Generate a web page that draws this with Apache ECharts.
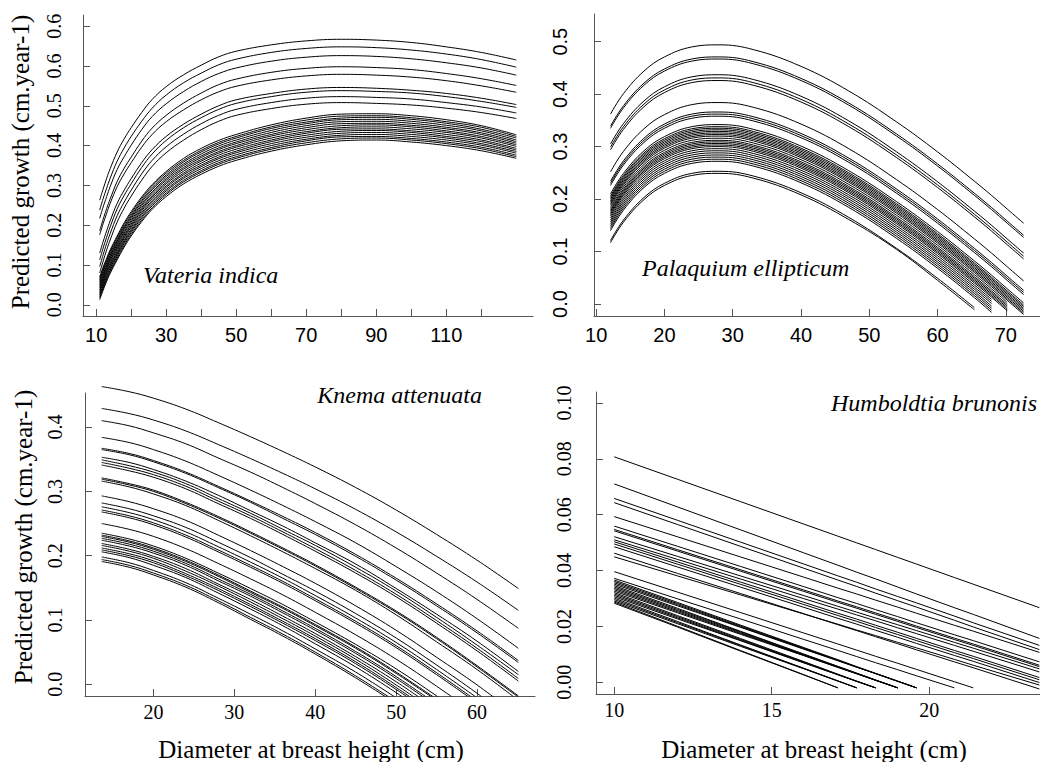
<!DOCTYPE html>
<html><head><meta charset="utf-8">
<script src="https://cdn.jsdelivr.net/npm/echarts@6/dist/echarts.min.js"></script>
<style>html,body{margin:0;padding:0;background:#fff}#c{width:1040px;height:762px}</style>
</head><body><div id="c"></div><script>
// ---------- Vateria indica ----------
const vateriaDbh = [11,12,13,14,16,18,20,23,26,30,35,40,45,50,60,70,80,90,100,110,120,130];
const vateriaGrowth = [
 [.263,.291,.318,.342,.384,.417,.445,.483,.516,.548,.578,.602,.623,.637,.653,.663,.667,.665,.659,.648,.634,.615],
 [.238,.267,.293,.318,.361,.394,.423,.461,.494,.527,.558,.582,.603,.617,.634,.644,.648,.646,.640,.630,.616,.597],
 [.217,.246,.272,.297,.340,.372,.401,.440,.473,.505,.536,.561,.581,.595,.612,.622,.626,.624,.618,.608,.595,.577],
 [.186,.215,.242,.266,.310,.343,.371,.411,.444,.476,.507,.532,.553,.567,.584,.594,.598,.596,.591,.581,.568,.551],
 [.176,.204,.230,.255,.297,.329,.357,.396,.428,.460,.490,.515,.535,.549,.565,.575,.579,.577,.572,.563,.550,.534],
 [.130,.159,.186,.211,.255,.288,.317,.357,.390,.423,.454,.479,.500,.515,.531,.542,.546,.544,.539,.531,.519,.503],
 [.113,.143,.170,.196,.241,.275,.304,.345,.379,.413,.445,.470,.491,.506,.523,.534,.538,.536,.532,.523,.511,.496],
 [.096,.126,.154,.179,.224,.258,.288,.329,.363,.397,.429,.455,.476,.491,.508,.519,.523,.521,.517,.508,.497,.482],
 [.080,.110,.138,.163,.208,.243,.273,.313,.348,.382,.414,.440,.461,.476,.493,.504,.508,.506,.502,.494,.483,.468],
 [.070,.095,.117,.138,.173,.206,.234,.271,.302,.335,.368,.393,.413,.428,.452,.469,.479,.480,.475,.465,.450,.427],
 [.066,.091,.113,.134,.169,.202,.230,.267,.298,.331,.363,.388,.408,.423,.447,.464,.474,.475,.470,.460,.446,.423],
 [.062,.087,.109,.130,.164,.197,.225,.262,.293,.326,.359,.384,.404,.419,.443,.459,.469,.471,.466,.456,.441,.419],
 [.058,.083,.105,.125,.160,.193,.221,.258,.289,.322,.354,.379,.399,.414,.438,.455,.465,.466,.461,.451,.437,.414],
 [.054,.078,.100,.121,.156,.189,.217,.253,.284,.317,.350,.374,.394,.409,.433,.450,.460,.461,.456,.446,.432,.410],
 [.050,.074,.096,.117,.152,.184,.212,.249,.280,.313,.345,.370,.390,.405,.428,.445,.455,.456,.451,.442,.428,.406],
 [.046,.070,.092,.113,.147,.180,.208,.244,.275,.308,.341,.365,.385,.400,.424,.440,.450,.452,.447,.437,.423,.402],
 [.042,.066,.088,.109,.143,.175,.203,.240,.271,.304,.336,.361,.381,.396,.419,.435,.445,.447,.442,.433,.419,.398],
 [.037,.062,.084,.104,.139,.171,.199,.236,.267,.299,.331,.356,.376,.391,.414,.431,.441,.442,.437,.428,.414,.393],
 [.033,.058,.080,.100,.134,.167,.195,.231,.262,.295,.327,.351,.371,.386,.410,.426,.436,.438,.433,.423,.410,.389],
 [.029,.054,.076,.096,.130,.162,.190,.227,.258,.290,.322,.347,.367,.382,.405,.421,.431,.433,.428,.419,.405,.385],
 [.025,.049,.071,.092,.126,.158,.186,.222,.253,.286,.318,.342,.362,.377,.400,.416,.426,.428,.423,.414,.401,.381],
 [.021,.045,.067,.087,.122,.154,.182,.218,.249,.281,.313,.337,.357,.372,.395,.412,.422,.423,.418,.409,.396,.376],
 [.017,.041,.063,.083,.117,.149,.177,.213,.244,.277,.309,.333,.353,.368,.391,.407,.417,.419,.414,.405,.392,.372],
 [.013,.037,.059,.079,.113,.145,.173,.209,.240,.272,.304,.328,.348,.363,.386,.402,.412,.414,.409,.400,.387,.368]
];
const vateriaXTicks = [10,20,30,40,50,60,70,80,90,100,110,120];
const vateriaXLabels = [10,30,50,70,90,110];
const vateriaYTicks = [0,0.1,0.2,0.3,0.4,0.5,0.6,0.7];
const vateriaYLabels = ['0.0','0.1','0.2','0.3','0.4','0.5','0.6','0.6'];

// ---------- Palaquium ellipticum ----------
const palaquiumDbh = [12.1,14,17,20,24,28,33,40,47,54,60,65.4,67.9,70.2,72.6];
const palaquiumGrowth = [
 [.362,.401,.444,.471,.490,.494,.485,.453,.406,.347,.290,.234,.207,.181,.154],
 [.339,.378,.421,.448,.467,.471,.462,.430,.383,.324,.267,.211,.184,.158,.131],
 [.335,.374,.417,.444,.463,.467,.458,.426,.379,.320,.263,.207,.180,.154,.127],
 [.305,.344,.387,.414,.433,.437,.428,.396,.349,.290,.233,.177,.150,.124,.097],
 [.299,.338,.381,.408,.427,.431,.422,.390,.343,.284,.227,.171,.144,.118,.091],
 [.294,.333,.376,.403,.422,.426,.417,.385,.338,.279,.222,.166,.139,.113,.086],
 [.252,.291,.334,.361,.380,.384,.375,.343,.296,.237,.180,.124,.097,.071,.044],
 [.234,.273,.316,.343,.362,.366,.357,.325,.278,.219,.162,.106,.079,.053,.026],
 [.230,.269,.312,.339,.358,.362,.353,.321,.274,.215,.158,.102,.075,.049,.022],
 [.226,.265,.308,.335,.354,.358,.349,.317,.270,.211,.154,.098,.071,.045,.018],
 [.210,.249,.292,.319,.338,.342,.333,.301,.254,.195,.138,.082,.055,.029,.002],
 [.206,.245,.288,.315,.334,.338,.329,.297,.250,.191,.134,.078,.051,.025,-.002],
 [.203,.242,.285,.312,.331,.335,.326,.294,.247,.188,.131,.075,.048,.022,-.005],
 [.200,.239,.282,.309,.328,.332,.323,.291,.244,.185,.128,.072,.045,.019,-.008],
 [.197,.236,.279,.306,.325,.329,.320,.288,.241,.182,.125,.069,.042,.016,-.011],
 [.194,.233,.276,.303,.322,.326,.317,.285,.238,.179,.122,.066,.039,.013,-.014],
 [.191,.230,.273,.300,.319,.323,.314,.282,.235,.176,.119,.063,.036,.010,-.017],
 [.188,.227,.270,.297,.316,.320,.311,.279,.232,.173,.116,.060,.033,.007,-.020],
 [.184,.223,.266,.293,.312,.316,.307,.275,.228,.169,.112,.056,.029,.003],
 [.180,.219,.262,.289,.308,.312,.303,.271,.224,.165,.108,.052,.025,-.001],
 [.177,.216,.259,.286,.305,.309,.300,.268,.221,.162,.105,.049,.022,-.004],
 [.174,.213,.256,.283,.302,.306,.297,.265,.218,.159,.102,.046,.019,-.007],
 [.171,.210,.253,.280,.299,.303,.294,.262,.215,.156,.099,.043,.016,-.010],
 [.168,.207,.250,.277,.296,.300,.291,.259,.212,.153,.096,.040,.013,-.013],
 [.164,.203,.246,.273,.292,.296,.287,.255,.208,.149,.092,.036,.009],
 [.160,.199,.242,.269,.288,.292,.283,.251,.204,.145,.088,.032,.005],
 [.156,.195,.238,.265,.284,.288,.279,.247,.200,.141,.084,.028,.001],
 [.152,.191,.234,.261,.280,.284,.275,.243,.196,.137,.080,.024,-.004],
 [.148,.187,.230,.257,.276,.280,.271,.239,.192,.133,.076,.020,-.008],
 [.144,.183,.226,.253,.272,.276,.267,.235,.188,.129,.072,.016,-.012],
 [.140,.179,.222,.249,.268,.272,.263,.231,.184,.125,.068,.012,-.016],
 [.121,.160,.203,.230,.249,.253,.244,.212,.165,.106,.049,-.007],
 [.117,.156,.199,.226,.245,.249,.240,.208,.161,.104,.045,-.011]
];
const palaquiumXTicks = [10,20,30,40,50,60,70];
const palaquiumYTicks = [0,0.1,0.2,0.3,0.4,0.5];

// ---------- Knema attenuata ----------
const knemaDbh = [13.6,17,20,24,28,32,36,40,45,50,55,60,65.1];
const knemaGrowth = [
 [.463,.455,.445,.428,.407,.385,.362,.338,.306,.271,.233,.193,.149],
 [.429,.421,.411,.394,.373,.351,.328,.304,.272,.237,.199,.159,.115],
 [.410,.402,.391,.374,.352,.330,.306,.281,.248,.212,.173,.132,.087],
 [.384,.376,.365,.347,.325,.302,.278,.253,.220,.183,.144,.102,.056],
 [.367,.359,.348,.330,.308,.285,.261,.236,.202,.165,.125,.083,.037],
 [.365,.357,.346,.328,.306,.283,.258,.233,.199,.162,.122,.080,.034],
 [.353,.345,.334,.316,.294,.270,.246,.220,.187,.149,.109,.067,.020],
 [.349,.340,.330,.312,.289,.266,.241,.216,.182,.145,.104,.061,.015],
 [.345,.336,.326,.308,.285,.262,.237,.211,.177,.140,.099,.056,.009],
 [.341,.332,.322,.304,.281,.258,.233,.207,.173,.136,.095,.052,.005],
 [.321,.312,.302,.283,.261,.237,.212,.186,.151,.114,.073,.029,-.018],
 [.319,.310,.300,.281,.259,.235,.210,.184,.149,.112,.071,.027,-.020],
 [.316,.307,.296,.278,.255,.231,.206,.180,.146,.108,.066,.023,-.025],
 [.293,.284,.273,.255,.232,.208,.183,.157,.122,.084,.042,-.001,-.049],
 [.282,.273,.262,.244,.221,.197,.171,.145,.110,.072,.030,-.014,-.062],
 [.276,.267,.256,.237,.214,.190,.165,.138,.103,.065,.023,-.021],
 [.271,.262,.251,.232,.209,.185,.160,.133,.098,.060,.018,-.026],
 [.268,.259,.248,.229,.206,.182,.157,.130,.095,.057,.015,-.029],
 [.250,.241,.230,.211,.188,.164,.139,.112,.077,.039,-.003,-.047],
 [.235,.226,.215,.196,.173,.149,.124,.097,.062,.024,-.018,-.062],
 [.232,.223,.212,.193,.170,.145,.120,.093,.058,.019,-.023],
 [.230,.221,.210,.191,.168,.143,.118,.091,.056,.017,-.025],
 [.227,.218,.207,.188,.164,.140,.114,.087,.051,.012,-.031],
 [.224,.215,.204,.185,.161,.137,.111,.084,.048,.009,-.034],
 [.219,.210,.199,.180,.156,.132,.106,.079,.043,.004,-.039],
 [.216,.207,.196,.176,.153,.128,.102,.075,.039,-.001,-.044],
 [.212,.203,.192,.172,.149,.124,.098,.071,.035,-.005,-.048],
 [.209,.200,.189,.169,.146,.121,.095,.068,.032,-.008,-.051],
 [.206,.197,.185,.166,.142,.117,.091,.063,.027,-.013,-.056],
 [.198,.189,.177,.158,.134,.109,.083,.055,.019,-.021],
 [.194,.185,.173,.154,.130,.104,.078,.050,.013,-.027],
 [.191,.182,.170,.151,.127,.101,.075,.047,.010,-.030]
];
const knemaXTicks = [20,30,40,50,60];
const knemaYTicks = [0,0.1,0.2,0.3,0.4];

// ---------- Humboldtia brunonis ----------
const humboldtiaDbh = [10,12,14,16,17.1,17.7,18.3,19,19.6,20.8,21.4,23.5];
const humboldtiaGrowth = [
 [.0807,.0727,.0647,.0567,.0523,.0499,.0475,.0447,.0423,.0375,.0351,.0267],
 [.0710,.0628,.0546,.0464,.0419,.0394,.0370,.0341,.0316,.0267,.0243,.0157],
 [.0658,.0580,.0502,.0424,.0381,.0358,.0334,.0307,.0284,.0237,.0213,.0132],
 [.0643,.0565,.0487,.0409,.0366,.0343,.0319,.0292,.0269,.0222,.0198,.0117],
 [.0593,.0521,.0449,.0377,.0337,.0316,.0294,.0269,.0247,.0204,.0183,.0107],
 [.0559,.0487,.0415,.0343,.0303,.0282,.0260,.0235,.0213,.0170,.0149,.0073],
 [.0547,.0475,.0403,.0331,.0291,.0270,.0248,.0223,.0201,.0158,.0137,.0061],
 [.0542,.0470,.0398,.0326,.0286,.0265,.0243,.0218,.0196,.0153,.0132,.0056],
 [.0521,.0451,.0381,.0311,.0272,.0251,.0230,.0206,.0185,.0143,.0122,.0048],
 [.0510,.0440,.0370,.0300,.0262,.0241,.0220,.0195,.0174,.0132,.0111,.0037],
 [.0503,.0431,.0359,.0287,.0247,.0226,.0204,.0179,.0157,.0114,.0093,.0017],
 [.0495,.0423,.0351,.0279,.0239,.0218,.0196,.0171,.0149,.0106,.0085,.0009],
 [.0485,.0413,.0341,.0269,.0229,.0208,.0186,.0161,.0139,.0096,.0075,-.0001],
 [.0462,.0390,.0318,.0246,.0206,.0185,.0163,.0138,.0116,.0073,.0052,-.0024],
 [.0449,.0381,.0313,.0245,.0208,.0187,.0167,.0143,.0123,.0082,.0061,-.0010],
 [.0396,.0323,.0250,.0177,.0137,.0115,.0093,.0068,.0046,.0002,-.0020],
 [.0372,.0299,.0227,.0154,.0114,.0092,.0070,.0045,.0023,-.0020],
 [.0366,.0286,.0205,.0125,.0081,.0056,.0032,.0004,-.0020],
 [.0361,.0282,.0202,.0123,.0079,.0055,.0031,.0004,-.0020],
 [.0356,.0278,.0199,.0121,.0078,.0054,.0031,.0003,-.0020],
 [.0351,.0274,.0197,.0119,.0077,.0054,.0031,.0004,-.0020],
 [.0346,.0265,.0183,.0102,.0057,.0033,.0008,-.0020],
 [.0341,.0261,.0181,.0100,.0056,.0032,.0008,-.0020],
 [.0336,.0257,.0178,.0098,.0055,.0031,.0007,-.0020],
 [.0331,.0253,.0175,.0097,.0054,.0031,.0007,-.0020],
 [.0326,.0249,.0172,.0096,.0053,.0030,.0007,-.0020],
 [.0321,.0239,.0157,.0075,.0029,.0004,-.0020],
 [.0316,.0235,.0154,.0073,.0028,.0004,-.0020],
 [.0311,.0231,.0151,.0071,.0027,.0003,-.0020],
 [.0306,.0227,.0149,.0070,.0027,.0003,-.0020],
 [.0301,.0218,.0134,.0051,.0005,-.0020],
 [.0296,.0214,.0132,.0050,.0005,-.0020],
 [.0291,.0210,.0129,.0049,.0004,-.0020],
 [.0287,.0201,.0114,.0028,-.0020],
 [.0283,.0198,.0112,.0027,-.0020]
];
const humboldtiaXTicks = [10,15,20];
const humboldtiaYTicks = [0,0.02,0.04,0.06,0.08,0.10];

const speciesNames = ['Vateria indica','Palaquium ellipticum','Knema attenuata','Humboldtia brunonis'];
const yTitle = 'Predicted growth (cm.year-1)';
const xTitle = 'Diameter at breast height (cm)';

// ---------- layout ----------
const SERIF = '"Liberation Serif","Times New Roman",serif';
const SANS = '"Liberation Sans",Arial,sans-serif';
const AXC = '#555';
const panels = [
  {grid:{left:83,top:15,width:450,height:301}, x:[6.24,134.76], y:[-0.028,0.728],
   dbh:vateriaDbh, growth:vateriaGrowth, xt:vateriaXTicks, xl:vateriaXLabels, yt:vateriaYTicks,
   yfmt:v=>vateriaYLabels[Math.round(v*10)], xfont:SANS, yfont:SERIF, ym:19, xm:9, smooth:true},
  {grid:{left:594,top:14,width:451,height:302}, x:[9.68,75.0], y:[-0.0229,0.5528],
   dbh:palaquiumDbh, growth:palaquiumGrowth, xt:palaquiumXTicks, xl:palaquiumXTicks, yt:palaquiumYTicks,
   yfmt:v=>v.toFixed(1), xfont:SANS, yfont:SANS, ym:24, xm:9, smooth:true},
  {grid:{left:85,top:393,width:450,height:303}, x:[11.54,67.16], y:[-0.0182,0.453],
   dbh:knemaDbh, growth:knemaGrowth, xt:knemaXTicks, xl:knemaXTicks, yt:knemaYTicks,
   yfmt:v=>v.toFixed(1), xfont:SERIF, yfont:SERIF, ym:20, xm:6, smooth:true},
  {grid:{left:596,top:392,width:479,height:302}, x:[9.42,23.52], y:[-0.0042,0.1039],
   dbh:humboldtiaDbh, growth:humboldtiaGrowth, xt:humboldtiaXTicks, xl:humboldtiaXTicks, yt:humboldtiaYTicks,
   yfmt:v=>v.toFixed(2), xfont:SERIF, yfont:SERIF, ym:22, xm:6, smooth:false}
];

const grid=[], xAxis=[], yAxis=[], series=[];
panels.forEach((p,i)=>{
  grid.push(p.grid);
  xAxis.push({type:'value', gridIndex:i, min:p.x[0], max:p.x[1],
    axisLine:{onZero:false, lineStyle:{color:AXC,width:1}},
    axisTick:{inside:true, length:7, customValues:p.xt, lineStyle:{color:AXC,width:1}},
    axisLabel:{customValues:p.xl, margin:p.xm, fontFamily:p.xfont, fontSize:20, color:'#000', formatter:v=>String(v)},
    splitLine:{show:false}});
  yAxis.push({type:'value', gridIndex:i, min:p.y[0], max:p.y[1],
    axisLine:{onZero:false, lineStyle:{color:AXC,width:1}},
    axisTick:{inside:true, length:7, customValues:p.yt, lineStyle:{color:AXC,width:1}},
    axisLabel:{customValues:p.yt, rotate:90, margin:p.ym, fontFamily:p.yfont, fontSize:20, color:'#000', formatter:p.yfmt},
    splitLine:{show:false}});
  p.growth.forEach(ys=>{
    series.push({type:'line', xAxisIndex:i, yAxisIndex:i, showSymbol:false, symbol:'none',
      smooth:p.smooth ? 0.4 : false, clip: ys.some(v=>v<p.y[0]), silent:true,
      lineStyle:{color:'#000', width:1},
      data: ys.map((v,k)=>[p.dbh[k], v])});
  });
});

const sp = {font:'italic 24px '+SERIF, fill:'#000', verticalAlign:'middle'};
const tt = {font:'25px '+SERIF, fill:'#000', align:'center', verticalAlign:'middle'};
const graphic = [
  {type:'text', x:143, y:275, style:Object.assign({text:speciesNames[0], align:'left'}, sp)},
  {type:'text', x:642, y:268, style:Object.assign({text:speciesNames[1], align:'left'}, sp)},
  {type:'text', x:482, y:395, style:Object.assign({text:speciesNames[2], align:'right'}, sp)},
  {type:'text', x:1037, y:403, style:Object.assign({text:speciesNames[3], align:'right'}, sp)},
  {type:'text', x:20, y:162, rotation:Math.PI/2, style:Object.assign({text:yTitle}, tt)},
  {type:'text', x:23, y:537, rotation:Math.PI/2, style:Object.assign({text:yTitle}, tt)},
  {type:'text', x:311, y:749, style:Object.assign({text:xTitle}, tt)},
  {type:'text', x:814, y:749, style:Object.assign({text:xTitle}, tt)}
];

const chart = echarts.init(document.getElementById('c'), null, {renderer:'svg'});
chart.setOption({animation:false, backgroundColor:'#fff', grid, xAxis, yAxis, series, graphic});
</script></body></html>
